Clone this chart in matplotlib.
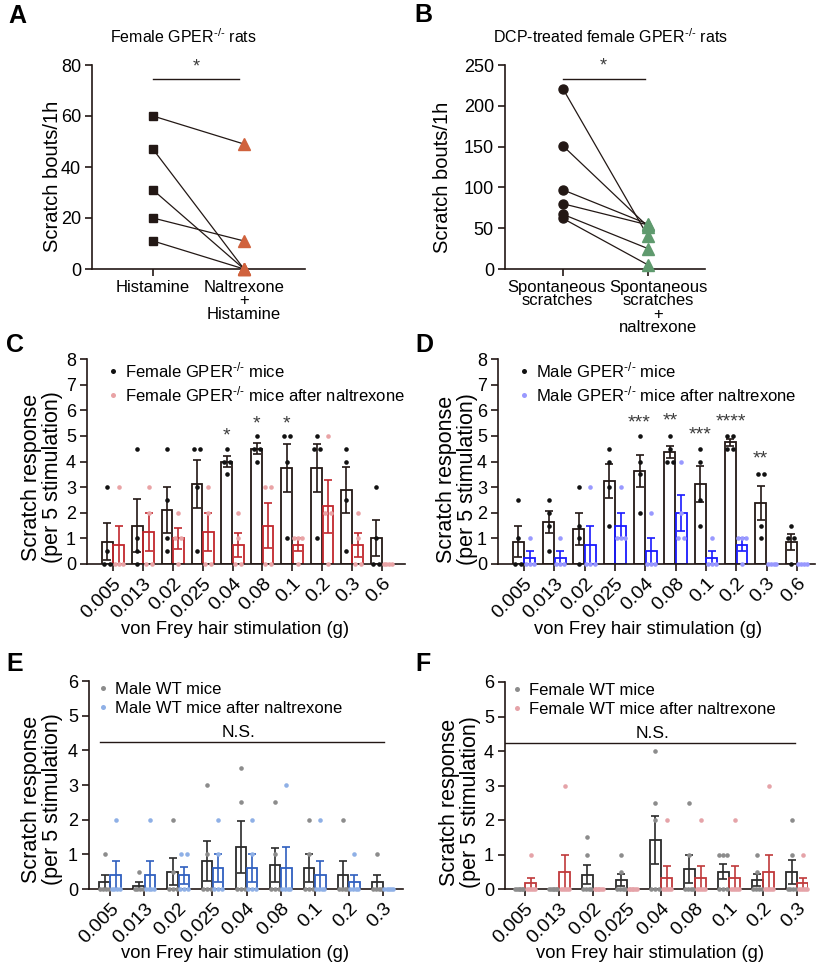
import numpy as np
import matplotlib
matplotlib.use("Agg")
import matplotlib.pyplot as plt
from matplotlib.lines import Line2D
from matplotlib.transforms import ScaledTranslation

plt.rcParams['font.family'] = ['Liberation Sans', 'DejaVu Sans']
plt.rcParams['mathtext.fontset'] = 'custom'
plt.rcParams['mathtext.rm'] = 'Liberation Sans'
plt.rcParams['mathtext.it'] = 'Liberation Sans:italic'
plt.rcParams['mathtext.bf'] = 'Liberation Sans:bold'

INK = '#231815'
KO = r'GPER$^{\mathrm{‐/‐}}$'   # small superscript with hyphens

# ---- panel A : female GPER-/- rats, histamine
a_groups = ['Histamine', 'Naltrexone\n+\nHistamine']
a_histamine = [60, 47, 31, 20, 11]
a_naltrexone = [49, 0, 0, 11, 0]

# ---- panel B : DCP-treated female GPER-/- rats
b_groups = ['Spontaneous\nscratches', 'Spontaneous\nscratches\n+\nnaltrexone']
b_spont = [221, 151, 97, 80, 67, 62]
b_naltrexone = [40, 52, 55, 54, 25, 5]

# ---- von Frey forces
forces_cd = ['0.005', '0.013', '0.02', '0.025', '0.04', '0.08', '0.1', '0.2', '0.3', '0.6']
forces_ef = ['0.005', '0.013', '0.02', '0.025', '0.04', '0.08', '0.1', '0.2', '0.3']

# panel C, female GPER-/- mice (n=4 per force)
c_ko = [[3, 0.5, 0, 0], [4.5, 1, 0.5, 0], [4.5, 2.5, 1, 0.5], [4.5, 4.5, 3, 0.5],
        [4.5, 4, 4, 3.5], [5, 4.5, 4.5, 4], [5, 5, 4, 1], [5, 4.5, 4.5, 1],
        [4.5, 4, 2.5, 0.5], [3, 1, 0, 0]]
c_ko_nal = [[3, 0, 0, 0], [3, 2, 0, 0], [2, 1, 1, 0], [3, 2, 0, 0],
            [2, 1, 0, 0], [3, 3, 0, 0], [1, 1, 1, 0], [5, 2, 2, 0],
            [2, 1, 0, 0], [0, 0, 0, 0]]
c_star_idx = [4, 5, 6]
c_star_txt = ['*', '*', '*']
c_star_y = [5.0, 5.45, 5.45]

# panel D, male GPER-/- mice (n=4)
d_ko = [[2.5, 1, 0, 0], [2.5, 2, 1.5, 0.5], [3, 1.5, 1, 0], [4.5, 4, 3, 1.5],
        [5, 4, 3.5, 2], [5, 4.5, 4, 4], [4.5, 4, 2.5, 1.5], [5, 5, 4.5, 4.5],
        [3.5, 3.5, 1.5, 1], [1.5, 1, 1, 0]]
d_ko_nal = [[1, 0, 0, 0], [1, 0, 0, 0], [3, 0, 0, 0], [3, 1, 1, 1],
            [2, 0, 0, 0], [4, 2, 1, 1], [1, 0, 0, 0], [1, 1, 1, 0],
            [0, 0, 0, 0], [0, 0, 0, 0]]
d_star_idx = [4, 5, 6, 7, 8]
d_star_txt = ['***', '**', '***', '****', '**']
d_star_y = [5.5, 5.6, 5.05, 5.55, 4.1]

# panel E, male WT mice (n=5)
e_wt = [[1, 0, 0, 0, 0], [0.5, 0, 0, 0, 0], [2, 0.5, 0, 0, 0], [3, 1, 0, 0, 0],
        [3.5, 2.5, 0, 0, 0], [2.5, 1, 0, 0, 0], [2, 1, 0, 0, 0], [2, 0, 0, 0, 0],
        [1, 0, 0, 0, 0]]
e_wt_nal = [[2, 0, 0, 0, 0], [2, 0, 0, 0, 0], [1, 1, 0, 0, 0], [2, 1, 0, 0, 0],
            [2, 1, 0, 0, 0], [3, 0, 0, 0, 0], [2, 0, 0, 0, 0], [1, 0, 0, 0, 0],
            [0, 0, 0, 0, 0]]

# panel F, female WT mice (n=6)
f_wt = [[0, 0, 0, 0, 0, 0], [0, 0, 0, 0, 0, 0], [1.5, 1, 0, 0, 0, 0], [1, 0.5, 0, 0, 0, 0],
        [4, 2.5, 2, 0, 0, 0], [2.5, 1, 0, 0, 0, 0], [1, 1, 1, 0, 0, 0], [1, 0.5, 0, 0, 0, 0],
        [2, 1, 0, 0, 0, 0]]
f_wt_nal = [[1, 0, 0, 0, 0, 0], [3, 0, 0, 0, 0, 0], [0, 0, 0, 0, 0, 0], [0, 0, 0, 0, 0, 0],
            [2, 0, 0, 0, 0, 0], [2, 0, 0, 0, 0, 0], [2, 0, 0, 0, 0, 0], [3, 0, 0, 0, 0, 0],
            [1, 0, 0, 0, 0, 0]]

W, H = 820, 964
fig = plt.figure(figsize=(W / 100, H / 100), dpi=100)


def px_axes(x0, y0, x1, y1):
    return fig.add_axes([x0 / W, 1 - y1 / H, (x1 - x0) / W, (y1 - y0) / H])


def ftext(x, y, s, **kw):
    return fig.text(x / W, 1 - y / H, s, **kw)


def style(ax):
    for s in ['top', 'right']:
        ax.spines[s].set_visible(False)
    for s in ['left', 'bottom']:
        ax.spines[s].set_linewidth(1.2)
        ax.spines[s].set_color(INK)
    ax.tick_params(width=1.2, length=5, labelsize=13, color=INK, pad=3)


def spread(vals, step, half):
    vals = np.asarray(vals, float)
    offs = np.zeros(len(vals))
    for v in np.unique(vals):
        idx = np.where(vals == v)[0]
        k = len(idx)
        st = step if k < 2 else min(step, 2 * half / (k - 1))
        offs[idx] = (np.arange(k) - (k - 1) / 2) * st
    return offs


def paired(ax, before, after, m0, c0, ms0, m1, c1, ms1):
    for b, a in zip(before, after):
        ax.plot([0, 1], [b, a], color=INK, lw=0.9, zorder=2)
    ax.plot(np.zeros(len(before)), before, ls='none', marker=m0, color=c0,
            ms=ms0, zorder=3, clip_on=False)
    ax.plot(np.ones(len(after)), after, ls='none', marker=m1, color=c1,
            ms=ms1, zorder=3, clip_on=False)


def grouped(ax, d0, d1, edge0, pt0, edge1, pt1, off, width, step):
    for data, sign, edge, pt in [(d0, -1, edge0, pt0), (d1, 1, edge1, pt1)]:
        data = np.array(data, float)
        m = data.mean(axis=1)
        s = data.std(axis=1, ddof=1) / np.sqrt(data.shape[1])
        xs = np.arange(len(data)) + sign * off
        ax.bar(xs, m, width, facecolor='none', edgecolor=edge, lw=1.3, zorder=2)
        ax.errorbar(xs, m, yerr=s, fmt='none', ecolor=edge, elinewidth=1.2,
                    capsize=3, capthick=1.2, zorder=3)
        for xi, row in zip(xs, data):
            ax.plot(xi + spread(row, step, width * 0.38), row, ls='none', marker='o',
                    color=pt, ms=3.3, mec='none', zorder=4, clip_on=False)


def legend(ax, labels, colors, x, y):
    hs = [Line2D([], [], ls='none', marker='o', ms=3.6, color=c, mec='none') for c in colors]
    ax.legend(hs, labels, loc='upper left', bbox_to_anchor=(x, y), frameon=False,
              fontsize=12, handlelength=0.5, handletextpad=0.45, labelspacing=0.25,
              borderpad=0, borderaxespad=0)


def bar_axes(ax, labels, ymax, xlim):
    style(ax)
    ax.set_xlim(*xlim)
    ax.set_ylim(0, ymax)
    ax.set_yticks(range(0, ymax + 1))
    ax.set_xticks(range(len(labels)))
    ax.set_xticklabels(labels, rotation=45, ha='right', rotation_mode='anchor', fontsize=14)


def stars(ax, idx, txt, ys, off):
    for i, t, y in zip(idx, txt, ys):
        ax.text(i - off, y, t, ha='center', va='center', fontsize=14, color='#3c3c3c')


# ---------------- A
axA = px_axes(92, 65, 305, 269)
style(axA)
paired(axA, a_histamine, a_naltrexone, 's', INK, 6.2, '^', '#d0623d', 8)
axA.set_xlim(-0.67, 1.67)
axA.set_ylim(0, 80)
axA.set_yticks(range(0, 81, 20))
axA.set_xticks([0, 1])
axA.set_xticklabels(a_groups, linespacing=0.85, fontsize=12)
axA.plot([0, 0.95], [74.5, 74.5], color=INK, lw=1)
axA.text(0.47, 76, '*', ha='center', va='bottom', fontsize=13, color='#3c3c3c')

# ---------------- B
axB = px_axes(505, 65, 705, 269)
style(axB)
paired(axB, b_spont, b_naltrexone, 'o', INK, 6.5, '^', '#5f9a6e', 8.5)
axB.set_xlim(-0.68, 1.67)
axB.set_ylim(0, 250)
axB.set_yticks(range(0, 251, 50))
axB.set_xticks([0, 1])
axB.set_xticklabels(b_groups, linespacing=0.85, fontsize=12)
for lbl, dx in zip(axB.get_xticklabels(), [-6, 10]):
    lbl.set_transform(lbl.get_transform() + ScaledTranslation(dx / 100, 0, fig.dpi_scale_trans))
axB.plot([0, 0.965], [232.5, 232.5], color=INK, lw=1)
axB.text(0.47, 238, '*', ha='center', va='bottom', fontsize=13, color='#3c3c3c')

# ---------------- C
axC = px_axes(87, 359, 405, 564)
bar_axes(axC, forces_cd, 8, (-0.87, 9.77))
grouped(axC, c_ko, c_ko_nal, INK, '#111111', '#c1272d', '#e9a3a5', 0.19, 0.36, 0.2)
stars(axC, c_star_idx, c_star_txt, c_star_y, 0.19)
legend(axC, ['Female ' + KO + ' mice', 'Female ' + KO + ' mice after naltrexone'],
       ['#111111', '#e9a3a5'], 0.069, 0.995)

# ---------------- D
axD = px_axes(498, 359, 815, 564)
bar_axes(axD, forces_cd, 8, (-0.86, 9.6))
grouped(axD, d_ko, d_ko_nal, INK, '#111111', '#1a1aff', '#9999ff', 0.19, 0.36, 0.2)
stars(axD, d_star_idx, d_star_txt, d_star_y, 0.19)
legend(axD, ['Male ' + KO + ' mice', 'Male ' + KO + ' mice after naltrexone'],
       ['#111111', '#9999ff'], 0.069, 0.995)

# ---------------- E
axE = px_axes(89, 681, 403, 889)
bar_axes(axE, forces_ef, 6, (-0.62, 8.59))
grouped(axE, e_wt, e_wt_nal, '#2b2b2b', '#8c8c8c', '#2f5fbf', '#8fb0e6', 0.165, 0.31, 0.17)
axE.plot([-0.29, 8.02], [4.24, 4.24], color=INK, lw=1)
axE.text(3.76, 4.3, 'N.S.', ha='center', va='bottom', fontsize=12.5)
legend(axE, ['Male WT mice', 'Male WT mice after naltrexone'],
       ['#8c8c8c', '#8fb0e6'], 0.032, 0.995)

# ---------------- F
axF = px_axes(505, 682, 808, 889)
bar_axes(axF, forces_ef, 6, (-0.59, 8.32))
grouped(axF, f_wt, f_wt_nal, '#2b2b2b', '#8c8c8c', '#c0393b', '#e5a3a8', 0.165, 0.31, 0.17)
axF.plot([-0.68, 7.94], [4.22, 4.22], color=INK, lw=1)
axF.text(3.76, 4.28, 'N.S.', ha='center', va='bottom', fontsize=12.5)
legend(axF, ['Female WT mice', 'Female WT mice after naltrexone'],
       ['#8c8c8c', '#e5a3a8'], 0.027, 0.995)

# ---------------- labels, titles
ftext(183, 37, 'Female ' + KO + ' rats', ha='center', va='center', fontsize=11.5)
ftext(610, 37, 'DCP-treated female ' + KO + ' rats', ha='center', va='center', fontsize=11.5)
ftext(53, 176, 'Scratch bouts/1h', rotation=90, ha='center', va='center', fontsize=14.5)
ftext(443, 177, 'Scratch bouts/1h', rotation=90, ha='center', va='center', fontsize=14.5)

ylab = 'Scratch response\n(per 5 stimulation)'
for x, y in [(42, 477), (457, 479), (42, 799), (460, 802)]:
    ftext(x, y, ylab, rotation=90, ha='center', va='center', fontsize=15.5,
          linespacing=1.0, multialignment='center')
xlab = 'von Frey hair stimulation (g)'
for x, y in [(235, 629), (648, 629), (235, 953), (650, 953)]:
    ftext(x, y, xlab, ha='center', va='center', fontsize=13.2)

for s, x, y in [('A', 17, 16), ('B', 423, 15), ('C', 15, 345), ('D', 424, 345),
                ('E', 15, 664), ('F', 423, 664)]:
    ftext(x, y, s, ha='center', va='center', fontsize=18, fontweight='bold')

fig.savefig('out.png', dpi=100)
